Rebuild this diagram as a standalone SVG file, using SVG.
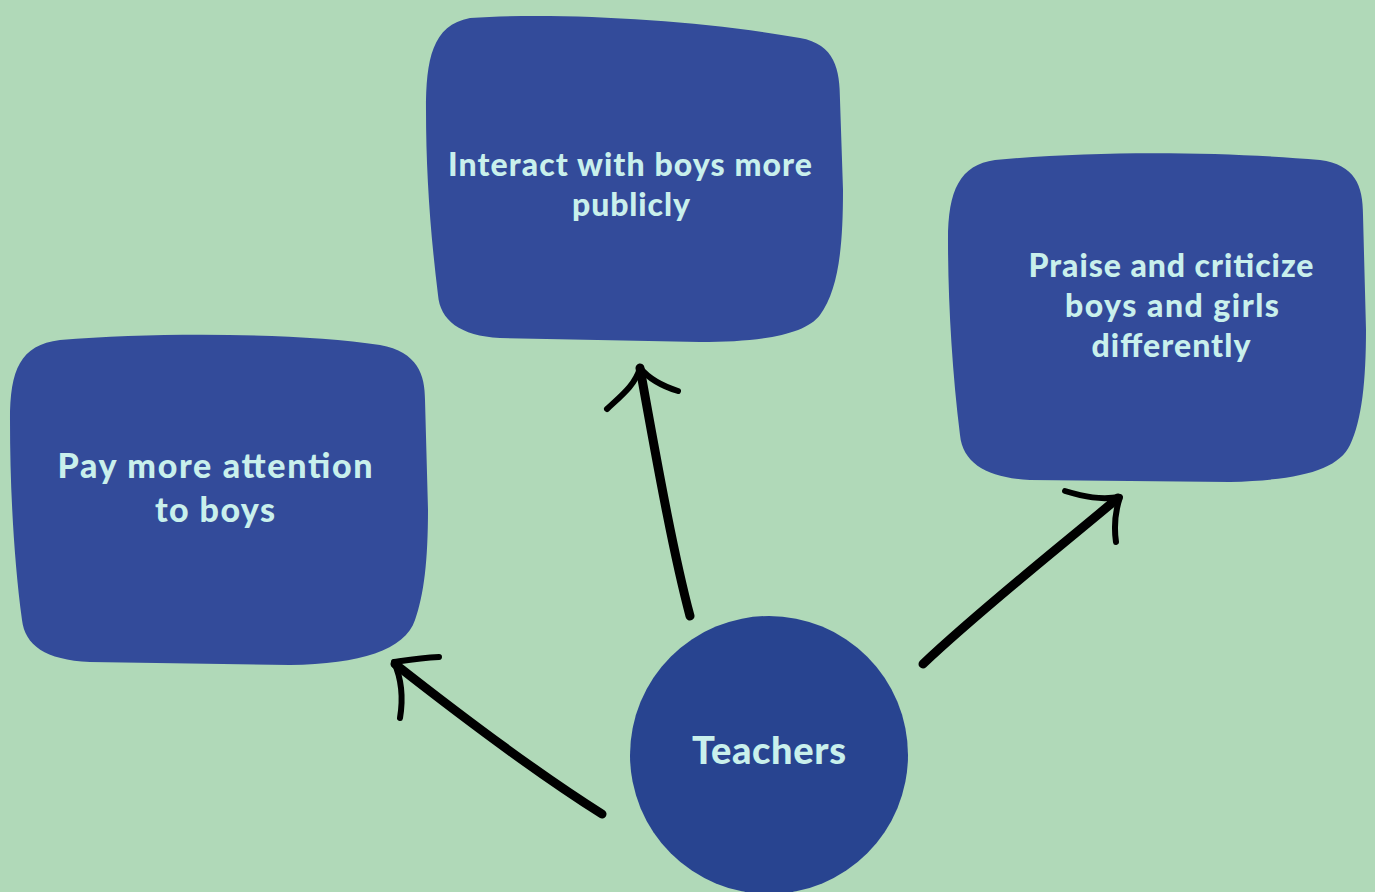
<svg xmlns="http://www.w3.org/2000/svg" width="1375" height="892" viewBox="0 0 1375 892">
<style>
.box{fill:#334B9A}
.circ{fill:#284490}
.t{font-family:Lato,"Noto Sans",sans-serif;font-weight:900;fill:#C9F0EC;text-anchor:middle}
.a{fill:none;stroke:#000;stroke-width:9;stroke-linecap:round;stroke-linejoin:round}
.h{fill:none;stroke:#000;stroke-width:6;stroke-linecap:round;stroke-linejoin:round}
</style>
<rect width="1375" height="892" fill="#B0D9B8"/>
<g id="connectors">
<path class="a" d="M690,616 C675,560 660,480 640,368"/>
<path class="h" d="M607,409 C622,395 635,385 640,368 C650,380 662,386 678,391"/>
<path class="a" d="M923,664 C980,610 1050,555 1118,498"/>
<path class="h" d="M1065,491 C1085,497 1100,500 1120,497 C1114,515 1114,528 1116,542"/>
<path class="a" d="M602,814 C540,775 460,715 395,664"/>
<path class="h" d="M439,657 C420,658 408,660 394,662 C402,680 403,700 400,718"/>
</g>
<g id="node-interact">
<path class="box" d="M470,18 C560,12 700,20 800,38 C835,44 840,70 840,100 L843,190 C843,250 838,290 820,315 C805,335 760,342 700,342 L500,338 C460,336 440,320 438,295 C430,230 426,170 426,110 C426,60 432,25 470,18 Z"/>
<text class="t" font-size="32" x="630" y="176" textLength="364" lengthAdjust="spacing">Interact with boys more</text>
<text class="t" font-size="32" x="631" y="216" textLength="118" lengthAdjust="spacing">publicly</text>
</g>
<g id="node-praise">
<path class="box" d="M995,160 C1100,150 1230,152 1320,160 C1355,165 1363,185 1363,215 L1366,330 C1366,380 1362,420 1350,445 C1338,470 1300,480 1230,482 L1030,480 C990,478 963,465 960,435 C952,370 948,300 948,240 C948,190 960,165 995,160 Z"/>
<text class="t" font-size="32" x="1171" y="277" textLength="285" lengthAdjust="spacing">Praise and criticize</text>
<text class="t" font-size="32" x="1172" y="317" textLength="214" lengthAdjust="spacing">boys and girls</text>
<text class="t" font-size="32" x="1171" y="357" textLength="159" lengthAdjust="spacing">differently</text>
</g>
<g id="node-pay">
<path class="box" d="M60,340 C160,332 300,333 380,345 C418,352 425,375 425,400 L428,510 C428,560 424,595 415,620 C405,650 360,664 290,665 L90,662 C45,660 25,645 22,620 C14,560 10,490 10,420 C10,370 20,345 60,340 Z"/>
<text class="t" font-size="34" x="215" y="478" textLength="315" lengthAdjust="spacing">Pay more attention</text>
<text class="t" font-size="34" x="215" y="522" textLength="120" lengthAdjust="spacing">to boys</text>
</g>
<g id="node-teachers">
<circle class="circ" cx="769" cy="755" r="139"/>
<text class="t" font-size="38" x="769" y="764" textLength="154" lengthAdjust="spacing">Teachers</text>
</g>
</svg>
